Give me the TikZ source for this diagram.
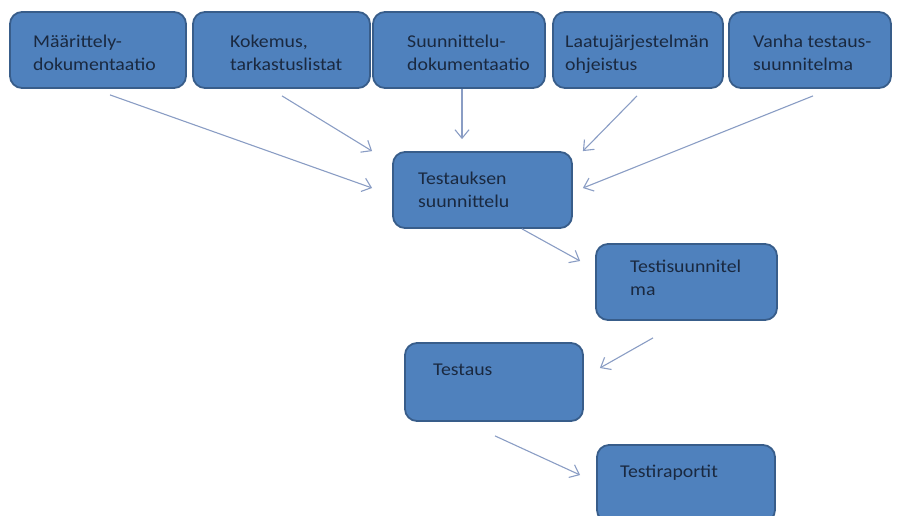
\documentclass[tikz,border=0pt]{standalone}
\usepackage{fontspec}
\setmainfont{Carlito}[FakeStretch=1.1]
\usetikzlibrary{arrows.meta}
\definecolor{boxfill}{HTML}{4F81BD}
\definecolor{boxline}{HTML}{385D8A}
\definecolor{boxtext}{HTML}{1A2940}
\definecolor{arrowcol}{HTML}{8A9DC4}
\begin{document}
\begin{tikzpicture}[x=1pt,y=-1pt,
  box/.style={draw=boxline, line width=1.8pt, fill=boxfill, rounded corners=12pt},
  lbl/.style={anchor=base west, inner sep=0pt, align=left, text=boxtext,
    font=\fontsize{18}{23}\selectfont},
  conn/.style={draw=arrowcol, line width=1.1pt,
    -{Straight Barb[length=8.5pt,width=14pt,line width=1.1pt]}}]
\useasboundingbox (0,0) rectangle (909,515);

% source documents along the top
\node[box, minimum width=176pt, minimum height=76pt, inner sep=0pt] (b1) at (98,50) {};
\node[box, minimum width=177pt, minimum height=76pt, inner sep=0pt] (b2) at (281.5,50) {};
\node[box, minimum width=172pt, minimum height=76pt, inner sep=0pt] (b3) at (459,50) {};
\node[box, minimum width=170pt, minimum height=76pt, inner sep=0pt] (b4) at (638,50) {};
\node[box, minimum width=162pt, minimum height=76pt, inner sep=0pt] (b5) at (810,50) {};

% process steps
\node[box, minimum width=179pt, minimum height=76pt, inner sep=0pt] (ts) at (482.5,190) {};
\node[box, minimum width=181pt, minimum height=76pt, inner sep=0pt] (tp) at (686.5,282) {};
\node[box, minimum width=178pt, minimum height=78pt, inner sep=0pt] (te) at (494,382) {};
\node[box, minimum width=178pt, minimum height=77pt, inner sep=0pt] (tr) at (686,483.5) {};

% labels (a multi-line label sits on the baseline of its last line)
\node[lbl] (l1) at (33,70) {Määrittely-\\dokumentaatio};
\node[lbl] (l2) at (230,70) {Kokemus,\\tarkastuslistat};
\node[lbl] (l3) at (407,70) {Suunnittelu-\\dokumentaatio};
\node[lbl] (l4) at (565,70) {Laatujärjestelmän\\ohjeistus};
\node[lbl] (l5) at (753,70) {Vanha testaus-\\suunnitelma};
\node[lbl] (l6) at (418,207) {Testauksen\\suunnittelu};
\node[lbl] (l7) at (630,295) {Testisuunnitel\\ma};
\node[lbl] (l8) at (433,375) {Testaus};
\node[lbl] (l9) at (620,477) {Testiraportit};

% connectors
\draw[conn] ([shift={(12,6)}]b1.south) -- ([shift={(-20,-2)}]ts.west);
\draw[conn] ([shift={(0.5,7)}]b2.south) -- ([shift={(-20,0)}]ts.north west);
\draw[conn] ([shift={(3,0)}]b3.south) -- ([shift={(-20.5,-12)}]ts.north);
\draw[conn] ([shift={(-1,7)}]b4.south) -- ([shift={(10,0)}]ts.north east);
\draw[conn] ([shift={(3,7)}]b5.south) -- ([shift={(10,-2)}]ts.east);
\draw[conn] ([shift={(39.5,0)}]ts.south) -- ([shift={(-15,-21)}]tp.west);
\draw[conn] ([shift={(-33.5,17)}]tp.south) -- ([shift={(16,-14)}]te.east);
\draw[conn] ([shift={(1,14)}]te.south) -- ([shift={(-16,-8.5)}]tr.west);
\end{tikzpicture}
\end{document}
